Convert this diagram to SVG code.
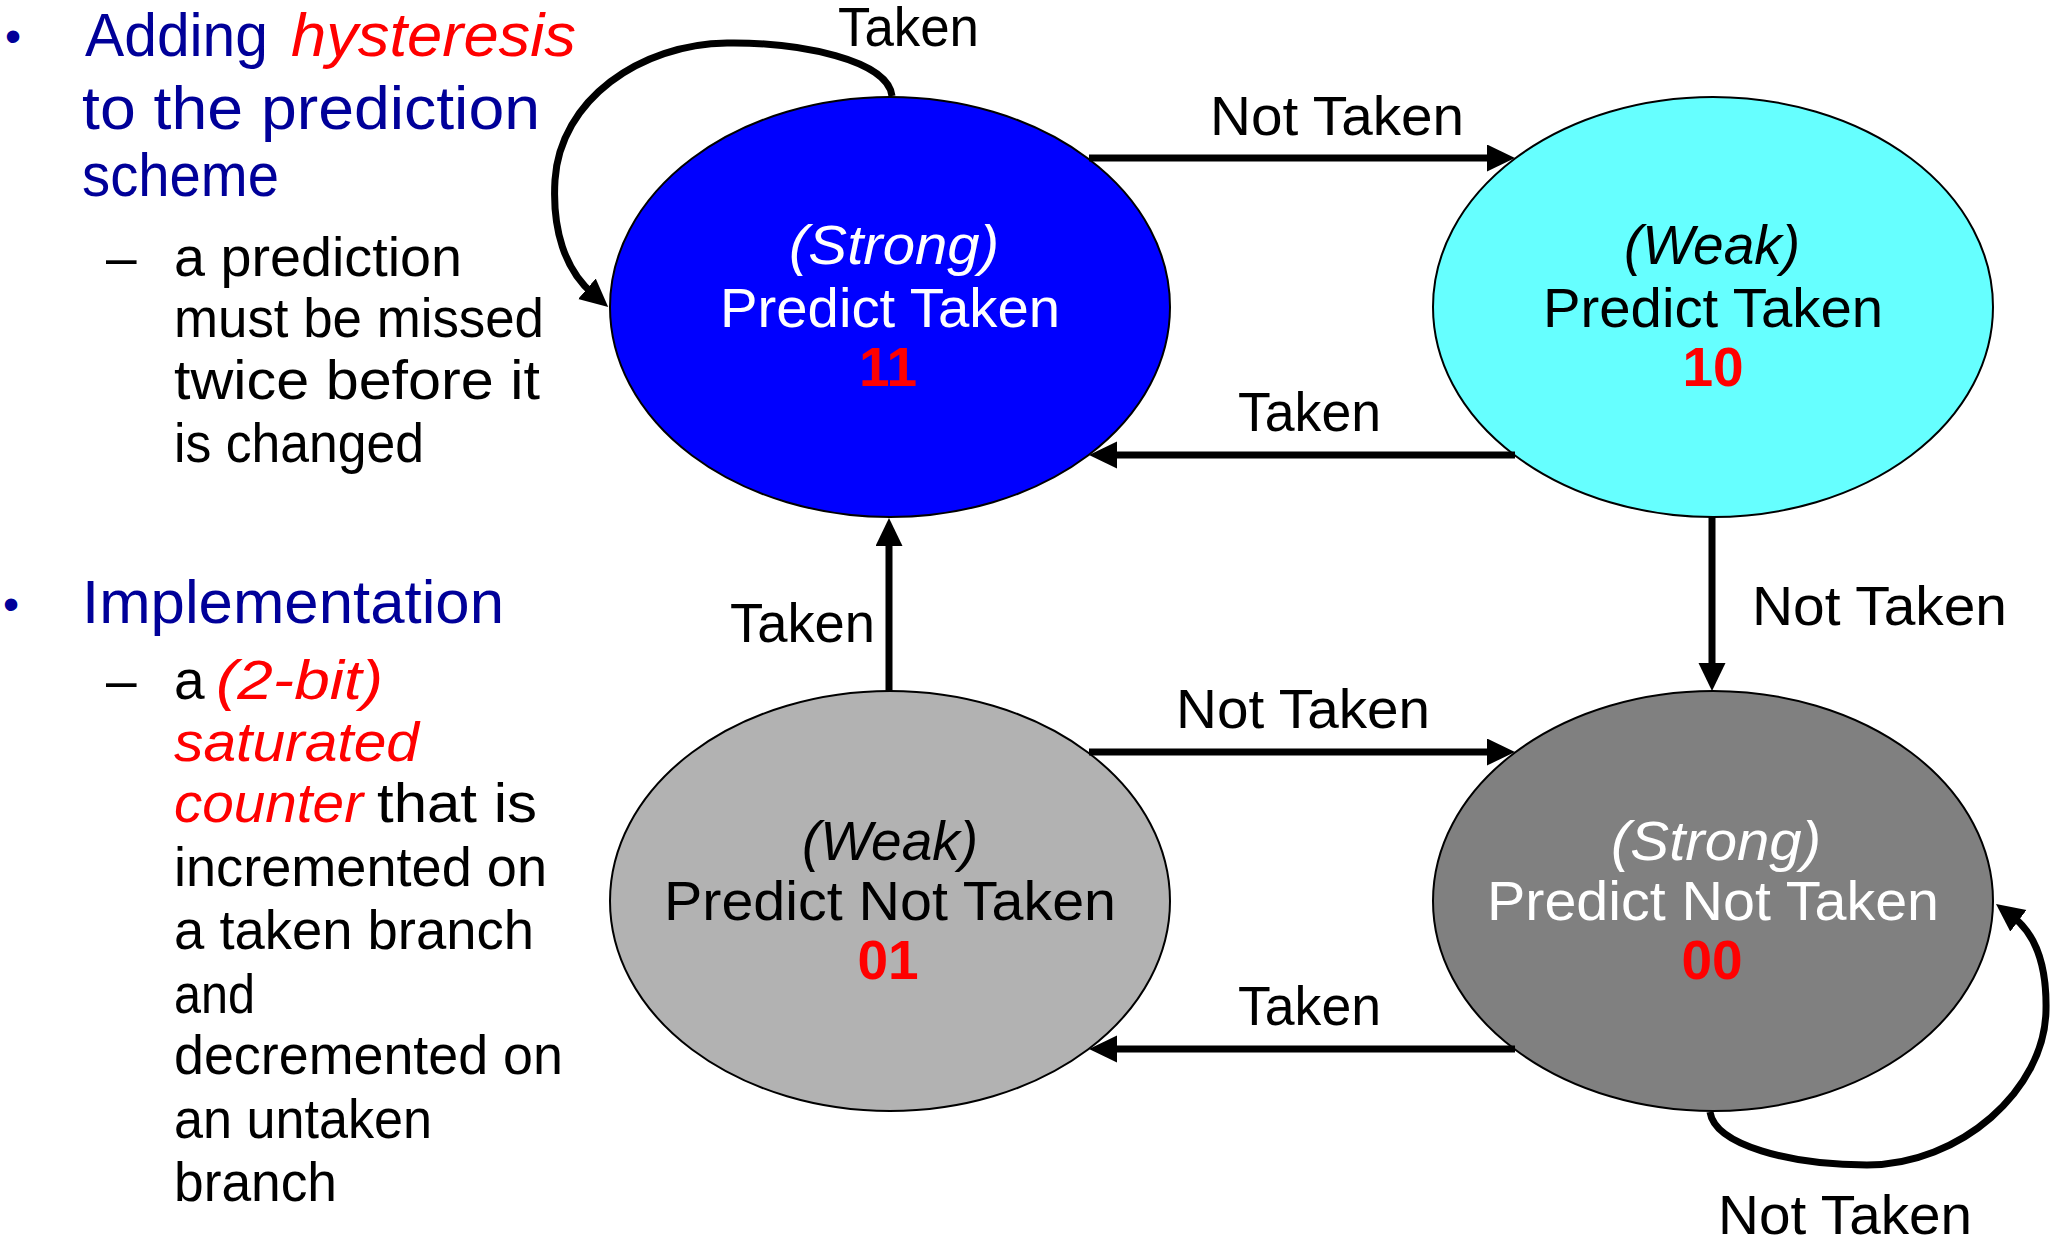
<svg xmlns="http://www.w3.org/2000/svg" width="2054" height="1245" viewBox="0 0 2054 1245">
<style>
text{font-family:"Liberation Sans",Arial,sans-serif;font-size:55px}
.t{font-size:62px;fill:#000099}
.bul{font-size:46px;fill:#000099}
.red{fill:#FF0000}
.it{font-style:italic}
.blk{fill:#000000}
.wht{fill:#FFFFFF}
.num{font-weight:bold;fill:#FF0000}
.c{text-anchor:middle}
.node{stroke:#000000;stroke-width:2}
.edge{fill:none;stroke:#000000;stroke-width:7}
</style>
<defs>
<marker id="arr" markerUnits="userSpaceOnUse" markerWidth="28" markerHeight="28" refX="8" refY="13.5" orient="auto">
<path d="M0,0 L28,13.5 L0,27 z" fill="#000000"/>
</marker>
</defs>
<rect width="2054" height="1245" fill="#FFFFFF"/>

<g id="text-left">
<text class="bul" x="5" y="52">•</text>
<text class="t" x="85" y="56" textLength="183" lengthAdjust="spacingAndGlyphs">Adding</text>
<text class="t red it" x="291" y="56" textLength="285" lengthAdjust="spacingAndGlyphs">hysteresis</text>
<text class="t" x="82" y="129" textLength="458" lengthAdjust="spacingAndGlyphs">to the prediction</text>
<text class="t" x="82" y="196" textLength="197" lengthAdjust="spacingAndGlyphs">scheme</text>
<text class="blk" x="106" y="276">–</text>
<text class="blk" x="174" y="276" textLength="288" lengthAdjust="spacingAndGlyphs">a prediction</text>
<text class="blk" x="174" y="337" textLength="370" lengthAdjust="spacingAndGlyphs">must be missed</text>
<text class="blk" x="174" y="399" textLength="366" lengthAdjust="spacingAndGlyphs">twice before it</text>
<text class="blk" x="174" y="462" textLength="250" lengthAdjust="spacingAndGlyphs">is changed</text>
<text class="bul" x="3" y="620">•</text>
<text class="t" x="82" y="623" textLength="422" lengthAdjust="spacingAndGlyphs">Implementation</text>
<text class="blk" x="106" y="699">–</text>
<text class="blk" x="174" y="699">a</text>
<text class="red it" x="216" y="699" textLength="167" lengthAdjust="spacingAndGlyphs">(2-bit)</text>
<text class="red it" x="174" y="761" textLength="245" lengthAdjust="spacingAndGlyphs">saturated</text>
<text class="red it" x="174" y="822" textLength="189" lengthAdjust="spacingAndGlyphs">counter</text>
<text class="blk" x="377" y="822" textLength="160" lengthAdjust="spacingAndGlyphs">that is</text>
<text class="blk" x="174" y="886" textLength="373" lengthAdjust="spacingAndGlyphs">incremented on</text>
<text class="blk" x="174" y="949" textLength="360" lengthAdjust="spacingAndGlyphs">a taken branch</text>
<text class="blk" x="174" y="1013" textLength="81" lengthAdjust="spacingAndGlyphs">and</text>
<text class="blk" x="174" y="1074" textLength="389" lengthAdjust="spacingAndGlyphs">decremented on</text>
<text class="blk" x="174" y="1138" textLength="258" lengthAdjust="spacingAndGlyphs">an untaken</text>
<text class="blk" x="174" y="1201" textLength="163" lengthAdjust="spacingAndGlyphs">branch</text>
</g>

<g id="node-11">
<ellipse class="node" cx="890" cy="307" rx="280" ry="210" fill="#0000FF"/>
<text class="wht it c" x="894" y="264" textLength="210" lengthAdjust="spacingAndGlyphs">(Strong)</text>
<text class="wht c" x="890" y="327" textLength="340" lengthAdjust="spacingAndGlyphs">Predict Taken</text>
<text class="num c" x="888" y="386">11</text>
</g>
<g id="node-10">
<ellipse class="node" cx="1713" cy="307" rx="280" ry="210" fill="#66FFFF"/>
<text class="blk it c" x="1712" y="264">(Weak)</text>
<text class="blk c" x="1713" y="327" textLength="340" lengthAdjust="spacingAndGlyphs">Predict Taken</text>
<text class="num c" x="1713" y="386">10</text>
</g>
<g id="node-01">
<ellipse class="node" cx="890" cy="901" rx="280" ry="210" fill="#B2B2B2"/>
<text class="blk it c" x="890" y="860">(Weak)</text>
<text class="blk c" x="890" y="920" textLength="452" lengthAdjust="spacingAndGlyphs">Predict Not Taken</text>
<text class="num c" x="888" y="979">01</text>
</g>
<g id="node-00">
<ellipse class="node" cx="1713" cy="901" rx="280" ry="210" fill="#808080"/>
<text class="wht it c" x="1716" y="860" textLength="210" lengthAdjust="spacingAndGlyphs">(Strong)</text>
<text class="wht c" x="1713" y="920" textLength="452" lengthAdjust="spacingAndGlyphs">Predict Not Taken</text>
<text class="num c" x="1712" y="979">00</text>
</g>

<g id="connectors">
<path class="edge" marker-end="url(#arr)" d="M892 96 C888 60 800 42 727 43 C640 44 560 100 555 180 C552 230 565 270 593 294"/>
<line class="edge" marker-end="url(#arr)" x1="1089" y1="158" x2="1495" y2="158"/>
<line class="edge" marker-end="url(#arr)" x1="1515" y1="455" x2="1109" y2="455"/>
<line class="edge" marker-end="url(#arr)" x1="1712" y1="517" x2="1712" y2="671"/>
<line class="edge" marker-end="url(#arr)" x1="889" y1="691" x2="889" y2="538"/>
<line class="edge" marker-end="url(#arr)" x1="1089" y1="752" x2="1495" y2="752"/>
<line class="edge" marker-end="url(#arr)" x1="1515" y1="1049" x2="1109" y2="1049"/>
<path class="edge" marker-end="url(#arr)" d="M1710 1112 C1715 1145 1790 1165 1867 1165 C1960 1165 2045 1090 2046 1010 C2047 960 2032 931 2012 916"/>
<text class="blk" x="838" y="46" textLength="141" lengthAdjust="spacingAndGlyphs">Taken</text>
<text class="blk" x="1210" y="135" textLength="254" lengthAdjust="spacingAndGlyphs">Not Taken</text>
<text class="blk" x="1238" y="431" textLength="143" lengthAdjust="spacingAndGlyphs">Taken</text>
<text class="blk" x="1752" y="625" textLength="255" lengthAdjust="spacingAndGlyphs">Not Taken</text>
<text class="blk" x="730" y="642" textLength="145" lengthAdjust="spacingAndGlyphs">Taken</text>
<text class="blk" x="1176" y="728" textLength="254" lengthAdjust="spacingAndGlyphs">Not Taken</text>
<text class="blk" x="1238" y="1025" textLength="143" lengthAdjust="spacingAndGlyphs">Taken</text>
<text class="blk" x="1718" y="1234" textLength="254" lengthAdjust="spacingAndGlyphs">Not Taken</text>
</g>
</svg>
